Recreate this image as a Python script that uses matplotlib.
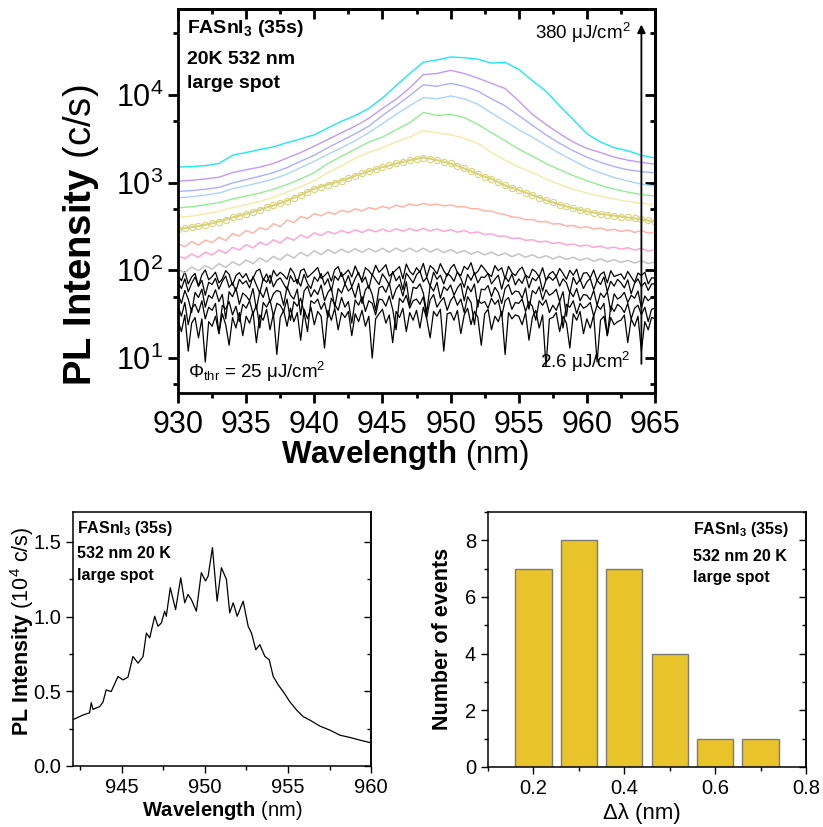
import numpy as np
import matplotlib
matplotlib.use("Agg")
import matplotlib.pyplot as plt
from matplotlib.ticker import LogLocator, NullFormatter, MultipleLocator

plt.rcParams['font.family'] = ['Liberation Sans', 'DejaVu Sans']
plt.rcParams['mathtext.fontset'] = 'custom'
plt.rcParams['mathtext.rm'] = 'Liberation Sans'
plt.rcParams['mathtext.it'] = 'Liberation Sans:italic'
plt.rcParams['mathtext.bf'] = 'Liberation Sans:bold'

# ---- top panel: power dependent spectra (c/s) ----
wl_1nm = np.arange(930, 966, 1.0)          # 36 points
wl_half = np.arange(930, 965.01, 0.5)      # 71 points
wl_q = np.arange(930, 965.001, 0.25)       # 141 points

cyan = [1500, 1520, 1560, 1650, 2050, 2200, 2380, 2550, 2850, 3150, 3500, 4200,
        5000, 5800, 7000, 9200, 12700, 17500, 23500, 25000, 27000, 26500, 25500,
        23000, 23500, 19500, 14500, 11000, 7500, 5200, 3600, 2900, 2500, 2300, 2050, 1900]
purple = [1040, 1060, 1100, 1150, 1300, 1400, 1500, 1650, 1900, 2200, 2600, 3100,
          3700, 4400, 5400, 7000, 8900, 12000, 17000, 17500, 19000, 17500, 15500,
          13500, 11800, 8500, 6000, 4600, 3600, 2900, 2450, 2200, 1950, 1800, 1700, 1620]
periwinkle = [790, 810, 840, 880, 990, 1080, 1180, 1300, 1480, 1750, 2050, 2500,
              3000, 3600, 4400, 5800, 7500, 9800, 13000, 12500, 13500, 12500, 11000,
              9000, 7500, 5800, 4500, 3500, 2800, 2300, 1950, 1700, 1520, 1400, 1330, 1290]
lightblue = [670, 690, 720, 760, 850, 920, 1000, 1100, 1250, 1480, 1750, 2100,
             2500, 3000, 3700, 4700, 6000, 7500, 9300, 9000, 9700, 9000, 7800,
             6200, 5000, 4000, 3300, 2650, 2150, 1780, 1480, 1290, 1140, 1040, 960, 910]
green = [515, 530, 560, 590, 650, 700, 760, 840, 950, 1100, 1300, 1650,
         2000, 2400, 2900, 3300, 4000, 4800, 6300, 5800, 6000, 5500, 4600,
         3700, 3000, 2400, 2000, 1650, 1400, 1200, 1050, 930, 840, 780, 730, 700]
lightyellow = [400, 415, 440, 470, 520, 560, 610, 680, 780, 900, 1050, 1300,
               1550, 1900, 2200, 2500, 2900, 3300, 3900, 3700, 3500, 3200, 2800,
               2200, 1800, 1500, 1300, 1100, 950, 840, 760, 700, 650, 610, 580, 560]
olive = [295, 302, 310, 320, 330, 344, 360, 378, 400, 420,
         440, 465, 490, 520, 550, 585, 620, 670, 720, 785,
         850, 900, 950, 1000, 1050, 1120, 1200, 1270, 1350, 1420,
         1500, 1570, 1650, 1720, 1800, 1860, 1920, 1870, 1800, 1730,
         1650, 1550, 1450, 1350, 1250, 1170, 1100, 1010, 930, 870,
         820, 770, 720, 675, 630, 595, 560, 535, 510, 490,
         470, 455, 440, 430, 420, 410, 400, 390, 380, 370, 360]
salmon = [200, 186, 212, 194, 221, 207, 238, 219, 262, 246,
          284, 265, 306, 290, 340, 315, 374, 350, 410, 388,
          442, 418, 459, 437, 482, 460, 502, 476, 518, 495,
          535, 509, 552, 528, 570, 545, 580, 553, 568, 542,
          555, 528, 532, 505, 503, 476, 472, 445, 432, 405,
          400, 377, 380, 357, 360, 337, 340, 319, 324, 305,
          314, 295, 304, 285, 294, 277, 288, 271, 283, 265, 272]
pink = [145, 136, 153, 141, 161, 149, 171, 156, 183, 170,
        196, 180, 209, 194, 223, 204, 238, 220, 253, 234,
        268, 250, 277, 260, 284, 266, 289, 270, 292, 274,
        295, 276, 297, 279, 299, 281, 300, 280, 296, 278,
        291, 272, 284, 266, 274, 256, 261, 244, 246, 230,
        234, 220, 223, 210, 215, 202, 207, 194, 200, 188,
        194, 183, 189, 178, 184, 174, 181, 170, 178, 166, 172]
grey = [102, 94, 109, 99, 113, 103, 119, 108, 125, 114,
        131, 119, 138, 125, 144, 131, 152, 138, 160, 145,
        167, 151, 172, 157, 174, 159, 176, 160, 177, 162,
        178, 161, 179, 163, 179, 162, 179, 161, 176, 159,
        172, 157, 168, 153, 164, 150, 161, 147, 157, 143,
        154, 141, 150, 138, 147, 135, 144, 133, 141, 130,
        138, 127, 135, 125, 132, 123, 130, 121, 129, 119, 125]

# low-power (below threshold) spectra, 0.25 nm steps
black1 = [88, 76, 97, 70, 84, 92, 66, 89, 101, 78,
          85, 95, 72, 80, 99, 90, 68, 87, 94, 82,
          92, 74, 81, 98, 103, 77, 91, 71, 100, 86,
          95, 88, 79, 106, 93, 70, 99, 104, 83, 90,
          98, 108, 81, 87, 96, 75, 102, 110, 85, 92,
          101, 84, 112, 90, 78, 107, 99, 88, 114, 95,
          104, 116, 86, 93, 101, 110, 80, 118, 97, 89,
          107, 95, 120, 84, 113, 104, 91, 119, 99, 86,
          106, 117, 94, 87, 111, 102, 122, 90, 97, 115,
          103, 91, 85, 113, 99, 107, 80, 111, 94, 87,
          100, 109, 88, 82, 103, 96, 84, 107, 77, 91,
          97, 85, 105, 92, 79, 100, 88, 103, 75, 93,
          94, 82, 101, 76, 90, 96, 72, 99, 85, 88,
          91, 79, 97, 84, 73, 93, 87, 95, 70, 82, 82]
black2 = [74, 62, 80, 57, 71, 84, 66, 77, 52, 73,
          69, 81, 61, 75, 86, 64, 72, 58, 79, 70,
          76, 63, 85, 68, 55, 80, 73, 88, 65, 77,
          82, 70, 60, 87, 74, 79, 66, 90, 71, 62,
          84, 75, 92, 68, 80, 58, 86, 77, 94, 70,
          87, 65, 81, 95, 73, 84, 62, 90, 78, 69,
          91, 80, 68, 97, 76, 86, 60, 93, 82, 72,
          89, 98, 74, 83, 66, 95, 79, 88, 70, 92,
          86, 75, 96, 81, 64, 90, 77, 94, 72, 84,
          83, 92, 70, 79, 88, 61, 85, 74, 91, 68,
          80, 71, 89, 63, 82, 76, 87, 58, 78, 84,
          77, 86, 66, 80, 72, 55, 83, 69, 79, 62,
          74, 81, 60, 77, 69, 84, 57, 75, 66, 79,
          72, 63, 78, 54, 71, 80, 65, 73, 59, 70, 70]
black3 = [54, 42, 59, 47, 33, 56, 49, 61, 38, 52,
          48, 60, 44, 53, 28, 57, 50, 63, 41, 55,
          51, 45, 62, 36, 58, 49, 64, 43, 54, 59,
          57, 40, 65, 52, 47, 61, 31, 58, 66, 50,
          60, 53, 68, 45, 56, 63, 38, 62, 55, 70,
          58, 64, 49, 71, 42, 60, 67, 53, 35, 63,
          66, 56, 72, 47, 61, 69, 51, 74, 40, 64,
          62, 70, 55, 33, 67, 58, 73, 48, 65, 59,
          68, 52, 63, 71, 45, 66, 57, 70, 38, 61,
          60, 67, 50, 64, 56, 42, 62, 69, 53, 58,
          57, 48, 63, 36, 59, 54, 65, 46, 60, 52,
          55, 61, 44, 57, 30, 58, 50, 62, 45, 53,
          52, 46, 59, 40, 55, 49, 57, 34, 54, 47,
          50, 56, 43, 52, 48, 58, 37, 51, 45, 49, 50]
black4 = [39, 30, 43, 24, 37, 41, 33, 45, 28, 38,
          35, 42, 19, 40, 36, 44, 31, 39, 26, 41,
          37, 45, 32, 40, 22, 43, 38, 46, 30, 42,
          40, 34, 47, 27, 44, 39, 48, 33, 20, 45,
          42, 47, 36, 43, 29, 48, 41, 35, 49, 38,
          44, 25, 46, 40, 50, 34, 45, 42, 31, 47,
          46, 39, 51, 36, 21, 48, 43, 52, 37, 45,
          47, 41, 50, 29, 46, 53, 38, 44, 49, 35,
          45, 51, 40, 47, 33, 50, 43, 24, 46, 42,
          44, 37, 48, 41, 46, 30, 45, 49, 36, 43,
          42, 47, 34, 44, 39, 27, 45, 40, 46, 33,
          40, 35, 44, 22, 41, 38, 45, 32, 42, 37,
          39, 43, 30, 40, 36, 42, 18, 39, 34, 41,
          38, 33, 42, 28, 37, 40, 31, 38, 26, 36, 37]
black5 = [27, 20, 31, 12, 25, 29, 17, 28, 9, 26,
          23, 30, 19, 32, 24, 14, 29, 22, 33, 18,
          30, 25, 34, 15, 31, 27, 36, 21, 32, 11,
          29, 35, 23, 37, 26, 33, 16, 36, 28, 38,
          24, 34, 30, 13, 35, 27, 37, 21, 33, 29,
          34, 18, 32, 26, 35, 23, 30, 10, 28, 32,
          36, 25, 31, 15, 34, 29, 37, 20, 33, 27,
          35, 22, 38, 28, 17, 34, 30, 36, 12, 32,
          33, 27, 35, 19, 31, 37, 24, 34, 29, 14,
          32, 36, 21, 30, 26, 34, 11, 33, 28, 31,
          30, 24, 33, 16, 29, 35, 22, 31, 8, 28,
          29, 33, 20, 30, 25, 13, 32, 27, 34, 19,
          28, 22, 31, 9, 27, 30, 18, 29, 24, 26,
          27, 31, 15, 28, 23, 30, 12, 26, 21, 29, 28]

# ---- bottom left: single spectrum (10^4 c/s) ----
spec_wl = [942.08, 942.65, 943.05, 943.15, 943.25, 943.65, 943.85, 944.05, 944.35,
           944.76, 945.06, 945.36, 945.66, 945.97, 946.27, 946.47, 946.67, 946.97,
           947.17, 947.37, 947.57, 947.67, 947.91, 948.23, 948.54, 948.78, 948.98,
           949.18, 949.48, 949.78, 950.03, 950.19, 950.45, 950.73, 950.99, 951.29,
           951.49, 951.70, 951.94, 952.30, 952.60, 952.80, 953.06, 953.30, 953.61,
           953.87, 954.11, 954.41, 954.71, 955.11, 955.52, 955.92, 956.32, 956.92,
           957.52, 958.13, 958.73, 959.33, 959.93]
spec_int = [0.312, 0.341, 0.356, 0.424, 0.379, 0.397, 0.426, 0.509, 0.498,
            0.599, 0.576, 0.594, 0.733, 0.688, 0.733, 0.890, 0.857, 1.002,
            0.935, 0.957, 1.036, 1.002, 1.193, 1.047, 1.260, 1.092, 1.148,
            1.114, 1.036, 1.294, 1.238, 1.271, 1.462, 1.103, 1.327, 1.249,
            1.025, 1.092, 1.002, 1.103, 0.935, 0.890, 0.778, 0.812, 0.733,
            0.711, 0.599, 0.543, 0.498, 0.430, 0.374, 0.330, 0.307, 0.267,
            0.240, 0.206, 0.191, 0.173, 0.157]

# ---- bottom right: histogram of mode spacing ----
dlam = [0.2, 0.3, 0.4, 0.5, 0.6, 0.7]
events = [7, 8, 7, 4, 1, 1]

fig = plt.figure(figsize=(8.23, 8.27), dpi=100)

# ================= top panel =================
ax = fig.add_axes([0.2163, 0.5248, 0.5796, 0.4643])
for b in [black1, black2, black3, black4, black5]:
    ax.plot(wl_q[:len(b)], b, color='black', lw=0.9)
ax.plot(wl_half, grey, color='#c4c4c4', lw=1.1)
ax.plot(wl_half, pink, color='#ffa6d6', lw=1.1)
ax.plot(wl_half, salmon, color='#ffb4aa', lw=1.1)
ax.plot(wl_half, olive, color='#d9d37c', lw=1.5, marker='o', ms=4.5,
        mfc='none', mew=0.8)
ax.plot(wl_1nm, lightyellow, color='#f3eba4', lw=1.0)
ax.plot(wl_1nm, green, color='#93ee93', lw=1.0)
ax.plot(wl_1nm, lightblue, color='#aad4ff', lw=1.0)
ax.plot(wl_1nm, periwinkle, color='#aab0ff', lw=1.0)
ax.plot(wl_1nm, purple, color='#c09af7', lw=1.0)
ax.plot(wl_1nm, cyan, color='#1ee8f5', lw=1.0)

ax.set_yscale('log')
ax.set_xlim(930, 965)
ax.set_ylim(4, 9.5e4)
ax.xaxis.set_major_locator(MultipleLocator(5))
ax.xaxis.set_minor_locator(MultipleLocator(2.5))
ax.yaxis.set_major_locator(LogLocator(base=10, subs=[1.0], numticks=10))
ax.yaxis.set_minor_locator(LogLocator(base=10, subs=[5.0], numticks=10))
ax.yaxis.set_minor_formatter(NullFormatter())
ax.tick_params(which='both', direction='out', width=2, labelsize=22)
ax.tick_params(axis='x', pad=5)
ax.tick_params(which='major', length=7)
ax.tick_params(which='minor', length=3.5)
for s in ax.spines.values():
    s.set_linewidth(2)

sx = ax.secondary_xaxis('top')
sx.xaxis.set_major_locator(MultipleLocator(5))
sx.xaxis.set_minor_locator(MultipleLocator(2.5))
sx.tick_params(which='both', direction='in', width=2, labeltop=False)
sx.tick_params(which='major', length=7)
sx.tick_params(which='minor', length=3.5)
sy = ax.secondary_yaxis('right')
sy.yaxis.set_major_locator(LogLocator(base=10, subs=[1.0], numticks=10))
sy.yaxis.set_minor_locator(LogLocator(base=10, subs=[5.0], numticks=10))
sy.tick_params(which='both', direction='in', width=2, labelright=False)
sy.tick_params(which='major', length=7)
sy.tick_params(which='minor', length=3.5)
for s in list(sx.spines.values()) + list(sy.spines.values()):
    s.set_linewidth(2)

ax.set_xlabel(r'$\mathbf{Wavelength}$ (nm)', fontsize=22.5)
ax.xaxis.set_label_coords(0.477, -0.118)
ax.set_ylabel(r'$\mathbf{PL\ Intensity}$ (c/s)', fontsize=27.5)
ax.yaxis.set_label_coords(-0.161, 0.41)

ax.text(0.018, 0.9375, r'FASnI$_\mathbf{3}$ (35s)', transform=ax.transAxes,
        fontsize=14, fontweight='bold', va='baseline')
ax.text(0.018, 0.857, '20K 532 nm', transform=ax.transAxes,
        fontsize=14, fontweight='bold', va='baseline')
ax.text(0.018, 0.794, 'large spot', transform=ax.transAxes,
        fontsize=14, fontweight='bold', va='baseline')
ax.text(0.948, 0.921, r'380 μJ/cm$^2$', transform=ax.transAxes,
        fontsize=13.5, ha='right', va='baseline')
ax.text(0.948, 0.064, r'2.6 μJ/cm$^2$', transform=ax.transAxes,
        fontsize=13.5, ha='right', va='baseline')
ax.text(0.021, 0.038, r'Φ$_{\rm thr}$ = 25 μJ/cm$^2$', transform=ax.transAxes,
        fontsize=13.5, ha='left', va='baseline')
ax.annotate('', xy=(964.0, 68000), xytext=(964.0, 8),
            arrowprops=dict(arrowstyle='-|>', color='black', lw=1.3,
                            mutation_scale=12))


def style_small(a):
    a.tick_params(which='both', direction='out', width=1, labelsize=14.5)
    a.tick_params(which='major', length=5)
    a.tick_params(which='minor', length=3)
    for s in a.spines.values():
        s.set_linewidth(1.1)


# ================= bottom left =================
ax2 = fig.add_axes([0.0887, 0.0738, 0.3621, 0.3071])
ax2.plot(spec_wl, spec_int, color='black', lw=0.9)
ax2.set_xlim(942.05, 960)
ax2.set_ylim(0, 1.7)
ax2.xaxis.set_major_locator(MultipleLocator(5))
ax2.xaxis.set_minor_locator(MultipleLocator(2.5))
ax2.yaxis.set_major_locator(MultipleLocator(0.5))
ax2.yaxis.set_minor_locator(MultipleLocator(0.25))
style_small(ax2)
sy2 = ax2.secondary_yaxis('right')
sy2.yaxis.set_major_locator(MultipleLocator(0.5))
sy2.yaxis.set_minor_locator(MultipleLocator(0.25))
sy2.tick_params(which='both', direction='in', width=1, labelright=False)
sy2.tick_params(which='major', length=5)
sy2.tick_params(which='minor', length=3)
sy2.spines['right'].set_linewidth(1.1)
ax2.set_xlabel(r'$\mathbf{Wavelength}$ (nm)', fontsize=14.5)
ax2.xaxis.set_label_coords(0.5, -0.13)
ax2.set_ylabel(r'$\mathbf{PL\ Intensity}$ (10$^4$ c/s)', fontsize=15.5)
ax2.yaxis.set_label_coords(-0.124, 0.53)
ax2.text(0.0145, 0.916, r'FASnI$_\mathbf{3}$ (35s)', transform=ax2.transAxes,
         fontsize=11.5, fontweight='bold', va='baseline')
ax2.text(0.0145, 0.818, '532 nm 20 K', transform=ax2.transAxes,
         fontsize=11.5, fontweight='bold', va='baseline')
ax2.text(0.0145, 0.732, 'large spot', transform=ax2.transAxes,
         fontsize=11.5, fontweight='bold', va='baseline')

# ================= bottom right =================
ax3 = fig.add_axes([0.593, 0.0726, 0.3864, 0.3083])
ax3.bar(dlam, events, width=0.08, color='#e8c42a', edgecolor='#7a7a7a', lw=1)
ax3.set_xlim(0.1, 0.8)
ax3.set_ylim(0, 9)
ax3.xaxis.set_major_locator(MultipleLocator(0.2))
ax3.xaxis.set_minor_locator(MultipleLocator(0.1))
ax3.yaxis.set_major_locator(MultipleLocator(2))
ax3.yaxis.set_minor_locator(MultipleLocator(1))
style_small(ax3)
sy3 = ax3.secondary_yaxis('right')
sy3.yaxis.set_major_locator(MultipleLocator(2))
sy3.yaxis.set_minor_locator(MultipleLocator(1))
sy3.tick_params(which='both', direction='in', width=1, labelright=False)
sy3.tick_params(which='major', length=5)
sy3.tick_params(which='minor', length=3)
sy3.spines['right'].set_linewidth(1.1)
ax3.set_xlabel('Δλ (nm)', fontsize=16)
ax3.xaxis.set_label_coords(0.483, -0.141)
ax3.set_ylabel('Number of events', fontsize=15.5, fontweight='bold')
ax3.yaxis.set_label_coords(-0.11, 0.502)
ax3.text(0.644, 0.914, r'FASnI$_\mathbf{3}$ (35s)', transform=ax3.transAxes,
         fontsize=11.5, fontweight='bold', va='baseline')
ax3.text(0.644, 0.809, '532 nm 20 K', transform=ax3.transAxes,
         fontsize=11.5, fontweight='bold', va='baseline')
ax3.text(0.644, 0.727, 'large spot', transform=ax3.transAxes,
         fontsize=11.5, fontweight='bold', va='baseline')

fig.savefig('out.png', dpi=100)
